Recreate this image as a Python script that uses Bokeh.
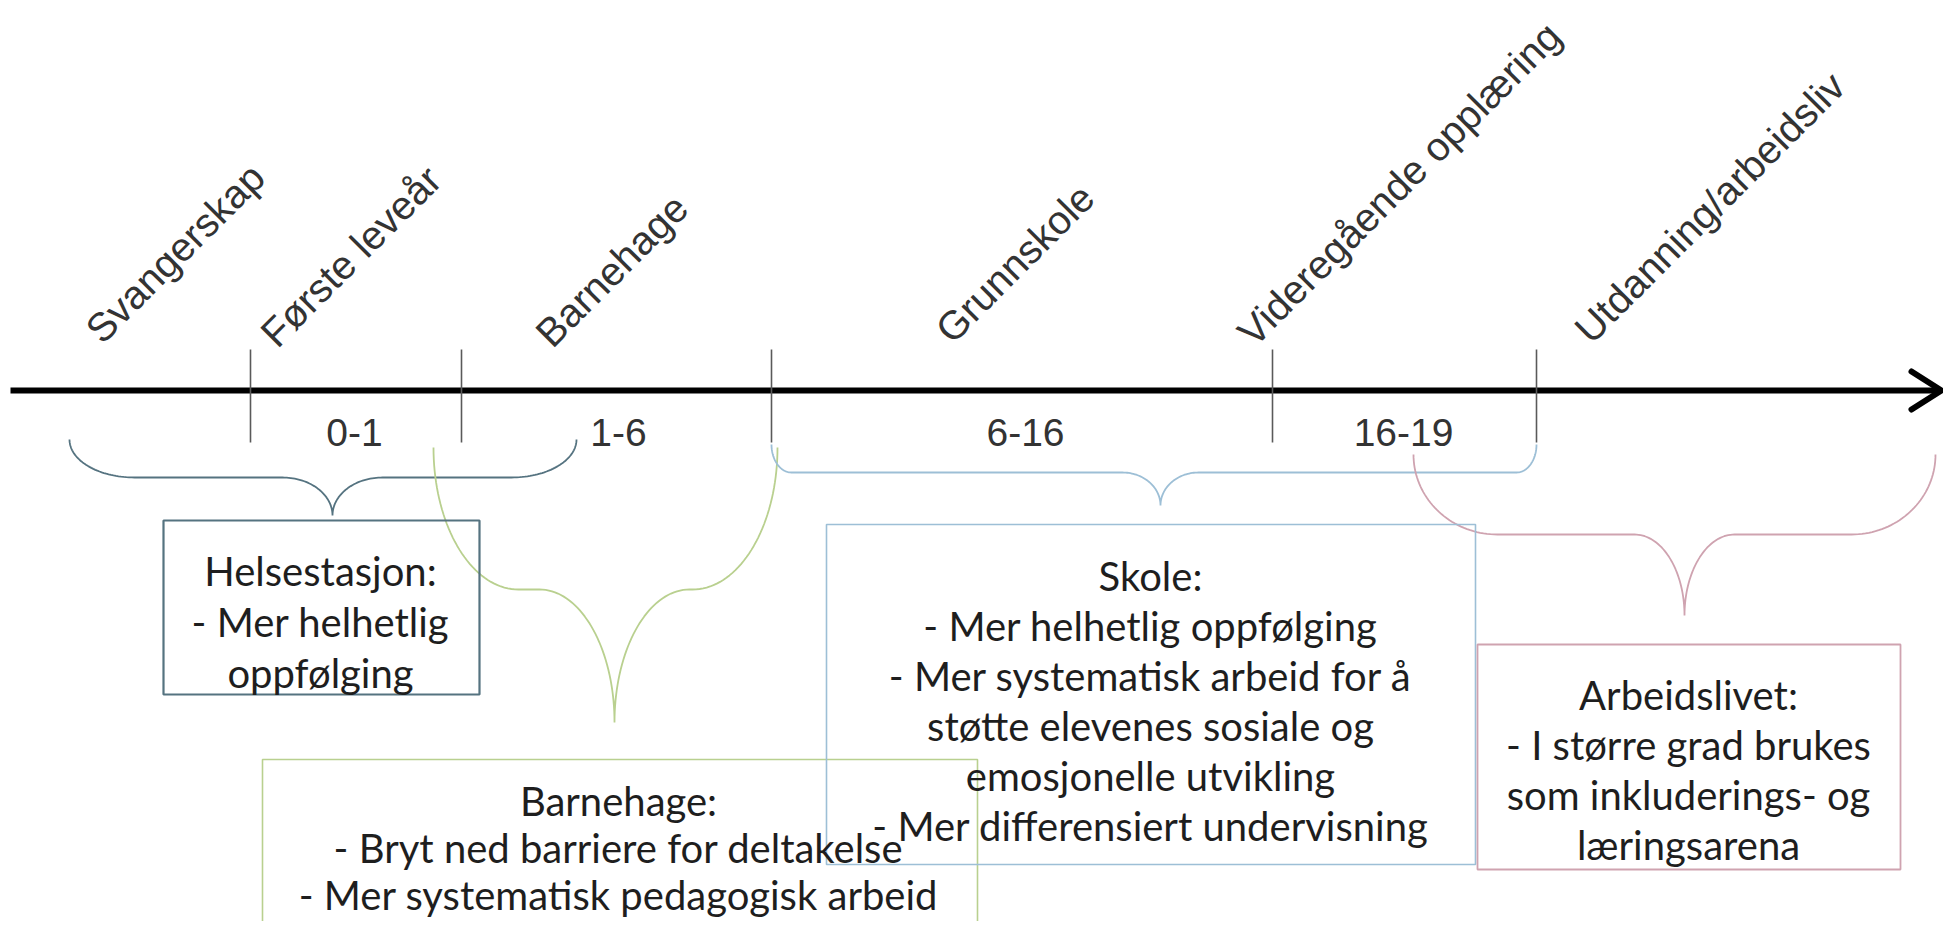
import numpy as np
from bokeh.plotting import figure
from bokeh.models import Range1d
from bokeh.core.properties import value
from bokeh.embed import file_html
from bokeh.resources import INLINE

# ---------------- content ----------------
stages = ["Svangerskap", "Første leveår", "Barnehage", "Grunnskole",
          "Videregående opplæring", "Utdanning/arbeidsliv"]
age_labels = ["0-1", "1-6", "6-16", "16-19"]

box_names = ["Helsestasjon", "Barnehage", "Skole", "Arbeidslivet"]
box_lines = [
    ["Helsestasjon:", "- Mer helhetlig", "oppfølging"],
    ["Barnehage:", "- Bryt ned barriere for deltakelse",
     "- Mer systematisk pedagogisk arbeid"],
    ["Skole:", "- Mer helhetlig oppfølging", "- Mer systematisk arbeid for å",
     "støtte elevenes sosiale og", "emosjonelle utvikling",
     "- Mer differensiert undervisning"],
    ["Arbeidslivet:", "- I større grad brukes", "som inkluderings- og",
     "læringsarena"],
]

# ---------------- layout (screen pixel frame) ----------------
PAGE_MARGIN = 8
FIG_W, FIG_H = 1943, 921
stage_x = [100, 275, 550, 950, 1252, 1589]
stage_y = [343, 347, 347, 343, 346, 343]
tick_x = [258, 469, 779, 1280, 1544]
tick_top, tick_bottom = 357, 450
age_x = [362, 626, 1033, 1411]
age_base = 440
axis_x0, axis_x1, axis_y = 18, 1949, 398

brace_x0 = [77, 441, 779, 1421]
brace_x1 = [584, 785, 1544, 1943]
brace_top = [447, 455, 452, 462]
brace_mid = [485, 597, 480, 542]
brace_tip_x = [340, 622, 1168, 1692]
brace_tip_y = [523, 730, 513, 623]
brace_end_r = [65, 85, 20, 84]
brace_tip_r = [50, 75, 38, 50]
group_colors = ["#557380", "#b9d08f", "#9dbfd6", "#cfa3b0"]
box_line_w = [2.2, 1.6, 1.6, 1.8]

box_left = [171, 270, 834, 1485]
box_top = [528, 767, 532, 652]
box_right = [487, 985, 1483, 1908]
box_bottom = [702, 960, 872, 877]
box_text_x = [328, 626, 1158, 1696]
box_first_base = [578, 808, 583, 702]
box_step = [51, 47, 50, 50]

# ---------------- figure ----------------
p = figure(width=FIG_W, height=FIG_H,
           x_range=Range1d(PAGE_MARGIN, PAGE_MARGIN + FIG_W),
           y_range=Range1d(PAGE_MARGIN + FIG_H, PAGE_MARGIN),
           output_backend="svg", toolbar_location=None, min_border=0)
p.axis.visible = False
p.grid.visible = False
p.outline_line_color = None
p.background_fill_color = "white"


def cubic(p0, p1, p2, p3, n=40):
    t = np.linspace(0, 1, n)[:, None]
    pts = ((1 - t) ** 3) * np.array(p0) + 3 * ((1 - t) ** 2) * t * np.array(p1) \
        + 3 * (1 - t) * t ** 2 * np.array(p2) + t ** 3 * np.array(p3)
    return pts


def brace(x0, x1, yt, ym, xt, ytip, re, rt):
    k = 0.5523
    ry1 = ym - yt
    ry2 = ytip - ym
    s1 = cubic((x0, yt), (x0, yt + k * ry1), (x0 + re - k * re, ym), (x0 + re, ym))
    s2 = cubic((xt - rt, ym), (xt - rt + k * rt, ym), (xt, ytip - k * ry2), (xt, ytip))
    s3 = cubic((xt, ytip), (xt, ytip - k * ry2), (xt + rt - k * rt, ym), (xt + rt, ym))
    s4 = cubic((x1 - re, ym), (x1 - re + k * re, ym), (x1, yt + k * ry1), (x1, yt))
    pts = np.vstack([s1, s2, s3, s4])
    return pts[:, 0], pts[:, 1]


# timeline axis
p.line([axis_x0, axis_x1 - 2], [axis_y, axis_y], line_width=6, line_color="black")
ah_len, ah_half = 30, 19
p.line([axis_x1 - ah_len, axis_x1, axis_x1 - ah_len],
       [axis_y - ah_half, axis_y, axis_y + ah_half],
       line_width=6, line_color="black", line_join="round", line_cap="round")

# ticks
p.segment(x0=tick_x, y0=[tick_top] * len(tick_x), x1=tick_x, y1=[tick_bottom] * len(tick_x),
          line_color="#5a5a5a", line_width=1.6)

# rotated stage labels
p.text(x=stage_x, y=stage_y, text=stages, angle=np.pi / 4,
       text_align="left", text_baseline="alphabetic",
       text_font=value("Liberation Sans"), text_font_size="40px", text_color="#333333")

# age labels
p.text(x=age_x, y=[age_base] * len(age_x), text=age_labels,
       text_align="center", text_baseline="alphabetic",
       text_font=value("Liberation Sans"), text_font_size="39px", text_color="#333333")

# braces
for i in range(len(box_names)):
    bx, by = brace(brace_x0[i], brace_x1[i], brace_top[i], brace_mid[i],
                   brace_tip_x[i], brace_tip_y[i], brace_end_r[i], brace_tip_r[i])
    p.line(bx, by, line_color=group_colors[i], line_width=1.8)

# boxes
p.quad(left=box_left, right=box_right, top=box_top, bottom=box_bottom,
       fill_color=None, line_color=group_colors, line_width=box_line_w)

# box texts
for i in range(len(box_names)):
    n = len(box_lines[i])
    ys = [box_first_base[i] + j * box_step[i] for j in range(n)]
    p.text(x=[box_text_x[i]] * n, y=ys, text=box_lines[i],
           text_align="center", text_baseline="alphabetic",
           text_font=value("Lato"), text_font_size="40px", text_color="#1e1e1e")

open("out.html", "w").write(file_html(p, INLINE))
